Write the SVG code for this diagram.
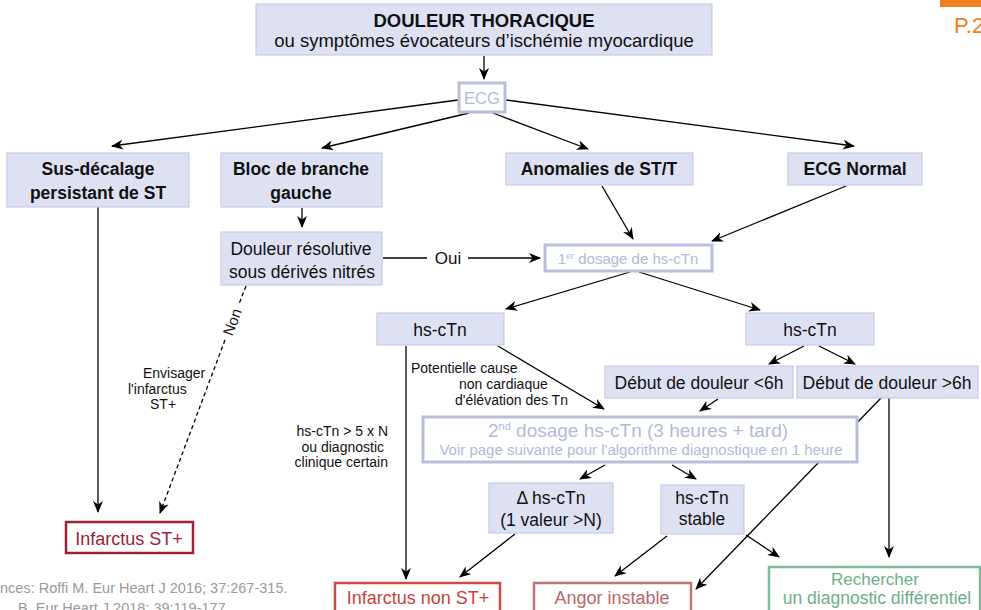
<svg xmlns="http://www.w3.org/2000/svg" width="981" height="610" viewBox="0 0 981 610">
<style>
text{font-family:"Liberation Sans",Arial,sans-serif;fill:#111;}
.n{fill:#dee1f2;stroke:#c5cbe7;stroke-width:1.2;}
.lb{fill:#fff;stroke:#b9bedb;stroke-width:3;}
.lt{fill:#b3b9d8;}
.b{font-weight:bold;font-size:17.5px;text-anchor:middle;}
.r{font-size:17.5px;text-anchor:middle;}
.s{font-size:14px;}
.c{stroke:#000;stroke-width:1.3;fill:none;marker-end:url(#ah);}
.cn{stroke:#000;stroke-width:1.3;fill:none;}
</style>
<defs>
<marker id="ah" viewBox="0 0 12 10" refX="11" refY="5" markerWidth="12" markerHeight="10" markerUnits="userSpaceOnUse" orient="auto">
<path d="M0,0 L12,5 L0,10 L3.5,5 Z" fill="#000"/>
</marker>
</defs>
<rect width="981" height="610" fill="#fff"/>

<g id="connectors">
<line class="c" x1="484" y1="56" x2="484" y2="79"/>
<line class="c" x1="458" y1="100" x2="112" y2="146"/>
<line class="c" x1="469" y1="113" x2="322" y2="148"/>
<line class="c" x1="493" y1="113" x2="588" y2="149"/>
<line class="c" x1="506" y1="100" x2="854" y2="146"/>
<line class="c" x1="98" y1="207" x2="98" y2="512"/>
<line class="c" x1="302" y1="208" x2="302" y2="227"/>
<line class="cn" x1="383" y1="258" x2="427" y2="258"/>
<line class="c" x1="468" y1="258" x2="540" y2="258"/>
<line class="c" x1="602" y1="186" x2="633" y2="239"/>
<line class="c" x1="846" y1="186" x2="712" y2="241"/>
<line class="c" x1="630" y1="272" x2="506" y2="309"/>
<line class="c" x1="639" y1="272" x2="760" y2="310"/>
<line class="c" x1="804" y1="346" x2="769" y2="364"/>
<line class="c" x1="819" y1="346" x2="855" y2="364"/>
<line class="c" x1="718" y1="399" x2="700" y2="411"/>
<line class="c" x1="498" y1="346" x2="604" y2="409"/>
<line class="c" x1="406" y1="346" x2="406" y2="579"/>
<line class="c" x1="881" y1="398" x2="696" y2="589"/>
<line class="c" x1="889" y1="398" x2="889" y2="557"/>
<line class="c" x1="605" y1="465" x2="580" y2="479"/>
<line class="c" x1="672" y1="465" x2="696" y2="479"/>
<line class="c" x1="515" y1="534" x2="460" y2="577"/>
<line class="c" x1="667" y1="536" x2="615" y2="576"/>
<line class="c" x1="746" y1="535" x2="779" y2="557"/>
<line class="cn" x1="246" y1="286" x2="239" y2="304" stroke-dasharray="4,3"/>
<line class="c" x1="225" y1="340" x2="160" y2="513" stroke-dasharray="4,3"/>
<text x="232" y="322" font-size="15" text-anchor="middle" dominant-baseline="central" transform="rotate(-69.6 232 322)">Non</text>
<text x="448" y="264" font-size="17" text-anchor="middle">Oui</text>
<text class="s" x="143" y="378">Envisager</text>
<text class="s" x="128" y="394">l'infarctus</text>
<text class="s" x="150" y="409">ST+</text>
<text class="s" x="388" y="436" text-anchor="end">hs-cTn &gt; 5 x N</text>
<text class="s" x="384" y="452" text-anchor="end">ou diagnostic</text>
<text class="s" x="388" y="467" text-anchor="end">clinique certain</text>
<text class="s" x="411" y="373">Potentielle cause</text>
<text class="s" x="459" y="389">non cardiaque</text>
<text class="s" x="455" y="405">d'élévation des Tn</text>
</g>

<g id="top">
<rect class="n" x="256" y="4" width="456" height="51"/>
<text x="484" y="27" font-size="18.5" font-weight="bold" text-anchor="middle">DOULEUR THORACIQUE</text>
<text x="484" y="47" font-size="18.5" text-anchor="middle">ou symptômes évocateurs d’ischémie myocardique</text>
</g>
<g id="ecg">
<rect class="lb" x="459" y="83" width="46" height="29"/>
<text class="lt" x="482" y="104" font-size="16.5" text-anchor="middle">ECG</text>
</g>
<g id="sus">
<rect class="n" x="7" y="153" width="182" height="54"/>
<text class="b" x="98" y="175">Sus-décalage</text>
<text class="b" x="98" y="199">persistant de ST</text>
</g>
<g id="bloc">
<rect class="n" x="221" y="153" width="161" height="54"/>
<text class="b" x="301" y="175">Bloc de branche</text>
<text class="b" x="301" y="199">gauche</text>
</g>
<g id="anom">
<rect class="n" x="506" y="153" width="187" height="32"/>
<text class="b" x="599" y="175">Anomalies de ST/T</text>
</g>
<g id="normal">
<rect class="n" x="788" y="153" width="134" height="32"/>
<text class="b" x="855" y="175">ECG Normal</text>
</g>
<g id="douleur">
<rect class="n" x="221" y="232" width="161" height="53"/>
<text class="r" x="301" y="255">Douleur résolutive</text>
<text class="r" x="302" y="278">sous dérivés nitrés</text>
</g>
<g id="dosage1">
<rect class="lb" x="545" y="245" width="167" height="26"/>
<text class="lt" x="628" y="264" font-size="15" text-anchor="middle">1<tspan font-size="9" dy="-5">er</tspan><tspan dy="5"> dosage de hs-cTn</tspan></text>
</g>
<g id="hsL">
<rect class="n" x="377" y="313" width="127" height="32"/>
<text class="r" x="440" y="336">hs-cTn</text>
</g>
<g id="hsR">
<rect class="n" x="746" y="313" width="128" height="32"/>
<text class="r" x="810" y="336">hs-cTn</text>
</g>
<g id="debut6">
<rect class="n" x="605" y="366" width="188" height="32"/>
<text class="r" x="699" y="389">Début de douleur &lt;6h</text>
</g>
<g id="debut6p">
<rect class="n" x="797" y="366" width="181" height="32"/>
<text class="r" x="887" y="389">Début de douleur &gt;6h</text>
</g>
<g id="dosage2">
<rect class="lb" x="423" y="417" width="434" height="45"/>
<text class="lt" x="638" y="437" font-size="19" text-anchor="middle">2<tspan font-size="11" dy="-7">nd</tspan><tspan dy="7"> dosage hs-cTn (3 heures + tard)</tspan></text>
<text class="lt" x="641" y="455" font-size="15" text-anchor="middle">Voir page suivante pour l'algorithme diagnostique en 1 heure</text>
</g>
<g id="delta">
<rect class="n" x="489" y="483" width="124" height="50"/>
<text class="r" x="551" y="504">Δ hs-cTn</text>
<text class="r" x="551" y="526">(1 valeur &gt;N)</text>
</g>
<g id="stable">
<rect class="n" x="661" y="485" width="83" height="49"/>
<text class="r" x="702" y="504">hs-cTn</text>
<text class="r" x="702" y="525">stable</text>
</g>
<g id="stemi">
<rect x="66" y="522" width="127" height="31" fill="#fff" stroke="#9b2335" stroke-width="2.5"/>
<text x="129" y="545" font-size="18" text-anchor="middle" style="fill:#9b2335">Infarctus ST+</text>
</g>
<g id="nstemi">
<rect x="335" y="583" width="165" height="40" fill="#fff" stroke="#cc4b45" stroke-width="2.5"/>
<text x="418" y="604" font-size="18" text-anchor="middle" style="fill:#c8423e">Infarctus non ST+</text>
</g>
<g id="angor">
<rect x="534" y="583" width="157" height="40" fill="#fff" stroke="#be7478" stroke-width="2.5"/>
<text x="612" y="604" font-size="18" text-anchor="middle" style="fill:#b9666b">Angor instable</text>
</g>
<g id="diff">
<rect x="769" y="567" width="211" height="56" fill="#fff" stroke="#7fbc9c" stroke-width="2.5"/>
<text x="875" y="585" font-size="17" text-anchor="middle" style="fill:#6aaf8b">Rechercher</text>
<text x="877" y="604" font-size="17.5" text-anchor="middle" style="fill:#6aaf8b">un diagnostic différentiel</text>
</g>
<g id="refs">
<text x="0" y="593" font-size="14.5" style="fill:#9a9a9a">nces: Roffi M. Eur Heart J 2016; 37:267-315.</text>
<text x="18" y="613" font-size="14.5" style="fill:#9a9a9a">B. Eur Heart J 2018; 39:119-177</text>
</g>
<g id="page">
<rect x="940" y="0" width="41" height="7" fill="#ef7f22"/>
<text x="954" y="33" font-size="22" style="fill:#ef7f22">P.2</text>
</g>
</svg>
